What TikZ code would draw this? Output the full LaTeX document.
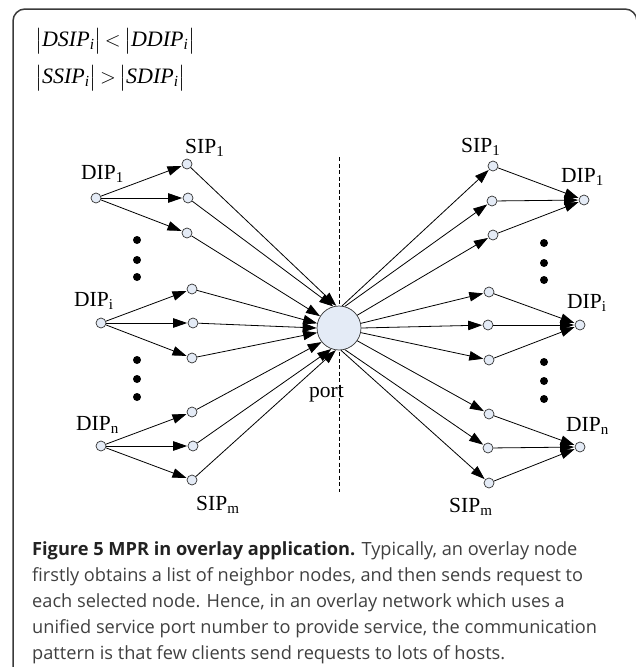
\documentclass[tikz,border=0pt]{standalone}
\usepackage{amsmath}
\usepackage{fontspec}
\setmainfont{Liberation Serif}
\newfontfamily\capfont{Open Sans}
\usetikzlibrary{arrows.meta}
\definecolor{nodefill}{HTML}{E4EBF6}
\definecolor{framecol}{HTML}{3A3A3A}
\definecolor{captext}{HTML}{404040}
\definecolor{capbold}{HTML}{222222}
\begin{document}
\begin{tikzpicture}[x=1pt,y=-1pt,
  host/.style={circle,draw=black!80,fill=nodefill,line width=0.7pt,minimum size=10pt,inner sep=0pt},
  portnode/.style={circle,draw=black!80,fill=nodefill,line width=0.7pt,minimum size=44pt,inner sep=0pt},
  dotnode/.style={circle,fill=black,minimum size=8pt,inner sep=0pt},
  conn/.style={line width=0.8pt,-{Triangle[length=14pt,width=9.5pt]},shorten >=0.5pt},
  lbl/.style={anchor=base west,inner sep=0pt,font=\fontsize{21.5}{24}\selectfont},
  formula/.style={anchor=west,inner sep=0pt,font=\fontsize{22}{26}\selectfont},
  capline/.style={anchor=base west,inner sep=0pt,font=\capfont\fontsize{18.2}{26}\selectfont,text=captext}
]
\useasboundingbox (0,0) rectangle (635,667);
% frame
\draw[framecol,line width=1.5pt,rounded corners=12pt] (13,700) -- (13,9) -- (637,9) -- (637,700);
% formulas
\node[formula] (f1) at (35,41)
  {$\bigl|\textit{DSIP}_{\textit{i}}\bigr|\mskip-2mu<\mskip-2mu\bigl|\textit{DDIP}_{\textit{i}}\bigr|$};
\node[formula] (f2) at (35,78)
  {$\bigl|\textit{SSIP}_{\textit{i}}\bigr|\mskip-2mu>\mskip-2mu\bigl|\textit{SDIP}_{\textit{i}}\bigr|$};
% dashed line
\coordinate (dtop) at (339,157);
\coordinate (dbot) at (339,492);
\draw[line width=0.7pt,dash pattern=on 4pt off 2.5pt] (dtop) -- (dbot);
% port
\node[portnode] (port) at (339,328) {};
% left side
\node[host] (ld1) at (96,198) {};
\node[host] (ld2) at (101,323) {};
\node[host] (ld3) at (101,446) {};
\node[host] (ls1) at (187,164) {};
\node[host] (ls2) at (188,198) {};
\node[host] (ls3) at (187,233) {};
\node[host] (ls4) at (192,289) {};
\node[host] (ls5) at (193,323) {};
\node[host] (ls6) at (192,358) {};
\node[host] (ls7) at (192,412) {};
\node[host] (ls8) at (193,446) {};
\node[host] (ls9) at (192,480) {};
% right side
\node[host] (rd1) at (584,200) {};
\node[host] (rd2) at (580,325) {};
\node[host] (rd3) at (580,447) {};
\node[host] (rs1) at (493,166) {};
\node[host] (rs2) at (492,201) {};
\node[host] (rs3) at (493,235) {};
\node[host] (rs4) at (489,292) {};
\node[host] (rs5) at (488,325) {};
\node[host] (rs6) at (489,360) {};
\node[host] (rs7) at (489,414) {};
\node[host] (rs8) at (488,448) {};
\node[host] (rs9) at (489,483) {};
% dots
\foreach \n/\x/\y in {a/137/240,b/137/260,c/137/277,d/137/360,e/137/379,f/137/397,
                     g/544/243,h/544/263,i/544/280,j/544/362,k/544/381,l/544/399}
  \node[dotnode] (dot\n) at (\x,\y) {};
% left fans
\foreach \s in {1,2,3} \draw[conn] (ld1) -- (ls\s);
\foreach \s in {4,5,6} \draw[conn] (ld2) -- (ls\s);
\foreach \s in {7,8,9} \draw[conn] (ld3) -- (ls\s);
% into port
\foreach \s/\a in {1/97,2/105,3/148,4/168,5/180,6/192,7/219,8/250,9/262}
  \draw[conn,shorten >=0pt] (ls\s) -- (port.\a);
% out of port
\foreach \s/\a in {1/82,2/75,3/35,4/12,5/0,6/-12,7/-35,8/-75,9/-85}
  \draw[conn] (port.\a) -- (rs\s);
% right fans
\foreach \s in {1,2,3} \draw[conn] (rs\s) -- (rd1);
\foreach \s in {4,5,6} \draw[conn] (rs\s) -- (rd2);
\foreach \s in {7,8,9} \draw[conn] (rs\s) -- (rd3);
% labels
\node[lbl] (tls1) at (185,153) {SIP\textsubscript{1}};
\node[lbl] (tld1) at (81,179) {DIP\textsubscript{1}};
\node[lbl] (tld2) at (74,306) {DIP\textsubscript{i}};
\node[lbl] (tld3) at (76,430) {DIP\textsubscript{n}};
\node[lbl] (tls9) at (196,510) {SIP\textsubscript{m}};
\node[lbl] (tport) at (309,397) {port};
\node[lbl] (trs1) at (461,152) {SIP\textsubscript{1}};
\node[lbl] (trd1) at (561,182) {DIP\textsubscript{1}};
\node[lbl] (trd2) at (567,308) {DIP\textsubscript{i}};
\node[lbl] (trd3) at (566,431) {DIP\textsubscript{n}};
\node[lbl] (trs9) at (449,512) {SIP\textsubscript{m}};
% caption
\node[capline] (c1) at (32,555) {{\bfseries\color{capbold}Figure 5 MPR in overlay application.} Typically, an overlay node};
\node[capline] (c2) at (32,581) {firstly obtains a list of neighbor nodes, and then sends request to};
\node[capline] (c3) at (32,607) {each selected node. Hence, in an overlay network which uses a};
\node[capline] (c4) at (32,633) {unified service port number to provide service, the communication};
\node[capline] (c5) at (32,659) {pattern is that few clients send requests to lots of hosts.};
\end{tikzpicture}
\end{document}
